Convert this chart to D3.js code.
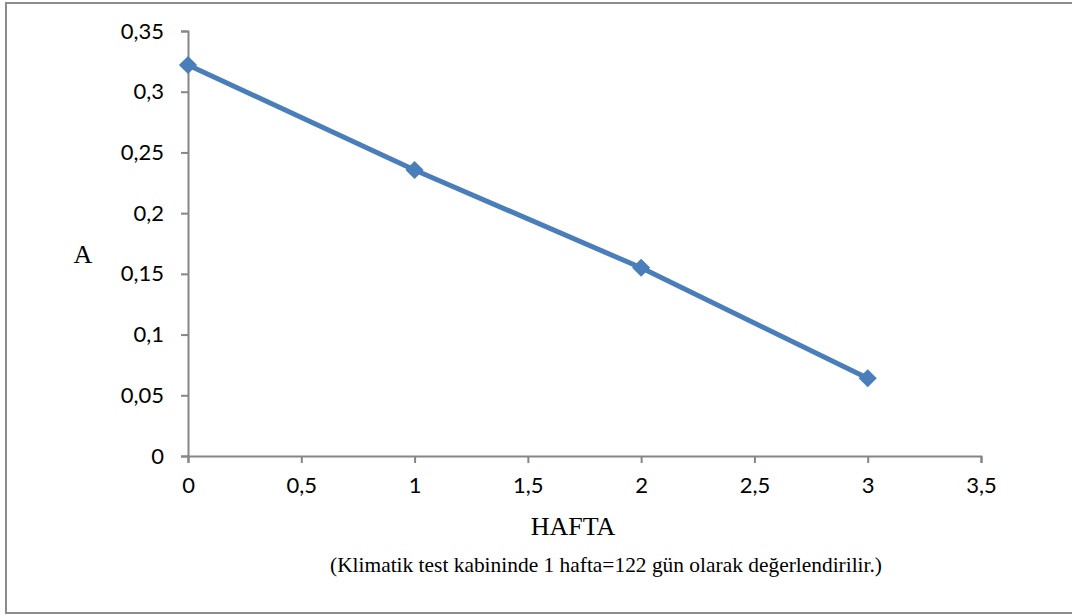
<!DOCTYPE html>
<html>
<head>
<meta charset="utf-8">
<script src="https://cdn.jsdelivr.net/npm/d3@7"></script>
<style>
  html, body { margin: 0; padding: 0; background: #fff; }
  svg { display: block; }
</style>
</head>
<body>
<svg id="chart" width="1072" height="616"></svg>
<script>
// Absorbance (A) over weeks in the climatic test cabinet
const weeks = [0, 1, 2, 3];
const absorbance = [0.322, 0.2355, 0.155, 0.064];
const xTicks = [0, 0.5, 1, 1.5, 2, 2.5, 3, 3.5];
const yTicks = [0, 0.05, 0.1, 0.15, 0.2, 0.25, 0.3, 0.35];
const xTitle = "HAFTA";
const yTitle = "A";
const note = "(Klimatik test kabininde 1 hafta=122 gün olarak değerlendirilir.)";

const svg = d3.select("#chart");
const axisColor = "#868686";
const lineColor = "#4a7ebb";
const fmt = v => String(v).replace(".", ",");

// outer frame (left, top and bottom edges; right edge lies past the page)
svg.append("path")
  .attr("d", "M1080,3 H6 V613 H1080")
  .attr("fill", "none")
  .attr("stroke", "#8c8c8c").attr("stroke-width", 2);

const x = d3.scaleLinear().domain([0, 3.5]).range([188, 981]);
const y = d3.scaleLinear().domain([0, 0.35]).range([456, 31]);

const xAxis = svg.append("g")
  .attr("transform", `translate(0,${y(0)})`)
  .call(d3.axisBottom(x).tickValues(xTicks).tickFormat(fmt).tickSize(7).tickSizeOuter(7).tickPadding(14));
const yAxis = svg.append("g")
  .attr("transform", `translate(${x(0)},0)`)
  .call(d3.axisLeft(y).tickValues(yTicks).tickFormat(fmt).tickSize(7).tickSizeOuter(7).tickPadding(17));

[xAxis, yAxis].forEach(g => {
  g.select(".domain").attr("stroke", axisColor).attr("stroke-width", 2);
  g.selectAll(".tick line").attr("stroke", axisColor).attr("stroke-width", 2);
  g.selectAll(".tick text")
    .attr("fill", "#000")
    .style("font-family", "Lato, 'Open Sans', sans-serif")
    .style("font-size", "22px");
});

// series line
const pts = weeks.map((w, i) => [w, absorbance[i]]);
svg.append("path")
  .datum(pts)
  .attr("fill", "none")
  .attr("stroke", lineColor)
  .attr("stroke-width", 5)
  .attr("stroke-linejoin", "round")
  .attr("d", d3.line().x(d => x(d[0])).y(d => y(d[1])));

// diamond markers
svg.selectAll("path.marker")
  .data(pts)
  .join("path")
  .attr("class", "marker")
  .attr("d", d3.symbol().type(d3.symbolDiamond2).size(210))
  .attr("transform", d => `translate(${x(d[0])},${y(d[1])})`)
  .attr("fill", lineColor);

// titles
svg.append("text")
  .attr("x", 83).attr("y", 263)
  .attr("text-anchor", "middle")
  .style("font-family", "'Liberation Serif', 'Times New Roman', serif")
  .style("font-size", "26px")
  .text(yTitle);

svg.append("text")
  .attr("x", 573).attr("y", 535)
  .attr("text-anchor", "middle")
  .style("font-family", "'Liberation Serif', 'Times New Roman', serif")
  .style("font-size", "26px")
  .text(xTitle);

svg.append("text")
  .attr("x", 606).attr("y", 572)
  .attr("text-anchor", "middle")
  .attr("textLength", 552)
  .attr("lengthAdjust", "spacingAndGlyphs")
  .style("font-family", "'Liberation Serif', 'Times New Roman', serif")
  .style("font-size", "21px")
  .text(note);
</script>
</body>
</html>
